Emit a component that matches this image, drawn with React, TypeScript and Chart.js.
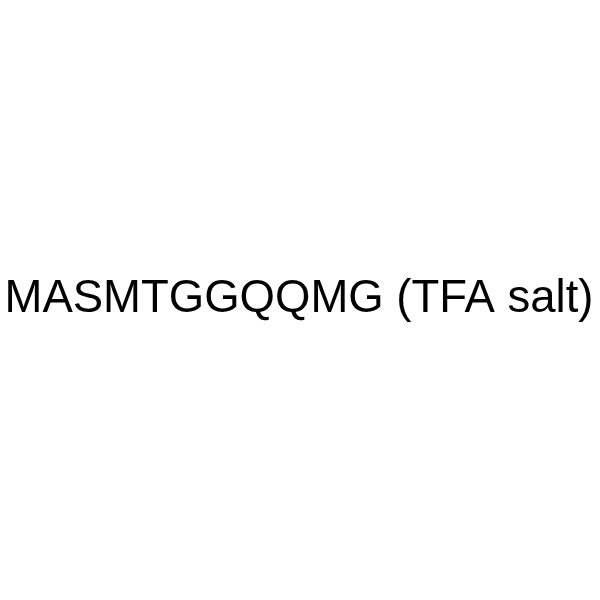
import { useEffect, useRef } from 'react'
import { Chart, registerables } from 'chart.js'

Chart.register(...registerables)

// the reference holds only a label, no data marks
const labels: string[] = []
const values: number[] = []
const caption = 'MASMTGGQQMG (TFA salt)'

export default function App() {
  const chartRef = useRef<HTMLCanvasElement>(null)
  const chartInstance = useRef<Chart | null>(null)

  useEffect(() => {
    document.body.style.margin = '0'
    if (!chartRef.current) return
    if (chartInstance.current) chartInstance.current.destroy()

    const captionPlugin = {
      id: 'caption',
      afterDraw(chart: Chart) {
        const { ctx, width } = chart
        ctx.save()
        ctx.font = '45.5px "Liberation Sans", Arial, sans-serif'
        ctx.fillStyle = '#000'
        ctx.textAlign = 'center'
        ctx.textBaseline = 'alphabetic'
        ctx.fillText(caption, width / 2 - 1, 312)
        ctx.restore()
      }
    }

    chartInstance.current = new Chart(chartRef.current, {
      type: 'bar',
      data: {
        labels,
        datasets: [{ data: values }]
      },
      options: {
        animation: false,
        responsive: true,
        maintainAspectRatio: false,
        scales: {
          x: { display: false },
          y: { display: false }
        },
        plugins: {
          legend: { display: false },
          tooltip: { enabled: false }
        }
      },
      plugins: [captionPlugin]
    })

    return () => {
      if (chartInstance.current) {
        chartInstance.current.destroy()
        chartInstance.current = null
      }
    }
  }, [])

  return (
    <div style={{ width: 600, height: 600, background: '#fff' }}>
      <canvas ref={chartRef} />
    </div>
  )
}
